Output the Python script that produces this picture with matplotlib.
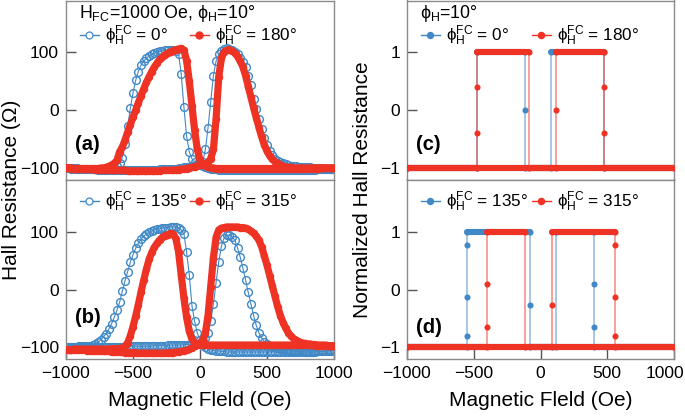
import numpy as np
import matplotlib
matplotlib.use("Agg")
import matplotlib.pyplot as plt
from matplotlib.lines import Line2D
from matplotlib.legend import Legend
from matplotlib.transforms import ScaledTranslation

plt.rcParams['font.family'] = ['Liberation Sans', 'DejaVu Sans']
plt.rcParams['mathtext.default'] = 'regular'

BLUE = '#4189c6'
RED = '#ee3325'

# ---------------- data ----------------
FIELD = np.arange(-1000, 1001, 20)   # Oe, measurement grid

# panel (a) phi_FC = 0 deg
A0_UP = [
    -100, -100, -100, -100, -100, -101, -101, -101, -101, -101,
    -101, -101, -101, -101, -101, -100, -100, -99, -98, -96,
    -92, -82, -58, -28, 3, 30, 52, 67, 78, 85,
    90, 94, 97, 99, 101, 102, 103, 104, 104, 104,
    104, 103, 98, 62, 5, -45, -72, -84, -90, -93,
    -95, -97, -99, -100, -101, -102, -102, -103, -103, -103,
    -104, -104, -104, -104, -104, -104, -104, -104, -104, -104,
    -104, -104, -104, -104, -104, -104, -104, -104, -104, -104,
    -104, -104, -104, -104, -104, -104, -104, -104, -104, -104,
    -103, -103, -103, -103, -102, -102, -102, -102, -101, -101,
    -101]
A0_DOWN = [
    -100, -100, -101, -101, -101, -101, -102, -102, -102, -102,
    -102, -102, -103, -103, -103, -103, -103, -103, -103, -103,
    -103, -103, -103, -103, -103, -103, -103, -103, -103, -103,
    -103, -103, -103, -103, -103, -102, -102, -102, -102, -101,
    -101, -101, -100, -100, -99, -99, -98, -97, -96, -95,
    -95, -90, -68, -30, 15, 60, 85, 97, 103, 106,
    107, 106, 104, 101, 97, 91, 84, 74, 60, 44,
    20, 2, -15, -32, -48, -60, -70, -78, -84, -88,
    -90, -92, -94, -95, -96, -97, -97, -98, -98, -99,
    -99, -99, -100, -100, -100, -100, -101, -101, -101, -101,
    -101]
# panel (a) phi_FC = 180 deg
A180_UP = [
    -100, -100, -100, -101, -101, -101, -101, -101, -101, -101,
    -101, -101, -101, -100, -100, -99, -97, -95, -92, -87,
    -72, -64, -52, -38, -25, -12, 0, 13, 25, 37,
    48, 58, 67, 75, 82, 88, 92, 96, 99, 101,
    103, 105, 106, 107, 104, 86, 50, 8, -35, -68,
    -86, -94, -97, -99, -100, -100, -101, -101, -101, -101,
    -101, -101, -101, -101, -101, -101, -101, -101, -101, -101,
    -101, -101, -101, -101, -101, -101, -101, -101, -101, -101,
    -101, -101, -101, -101, -101, -101, -101, -101, -101, -101,
    -101, -101, -101, -101, -101, -100, -100, -100, -100, -100,
    -100]
A180_DOWN = [
    -100, -100, -101, -101, -101, -101, -102, -102, -102, -102,
    -102, -103, -103, -103, -103, -103, -104, -104, -104, -104,
    -104, -104, -104, -105, -105, -105, -105, -105, -105, -105,
    -105, -105, -105, -105, -105, -105, -104, -104, -104, -104,
    -104, -103, -103, -102, -102, -101, -100, -99, -98, -96,
    -95, -94, -93, -90, -84, -68, -15, 58, 90, 101,
    104, 105, 103, 99, 93, 85, 75, 60, 41, 23,
    4, -13, -30, -46, -60, -71, -79, -85, -89, -92,
    -95, -97, -98, -99, -99, -100, -100, -100, -100, -100,
    -100, -100, -100, -100, -100, -100, -100, -100, -100, -100,
    -100]

# panel (b) phi_FC = 135 deg
B135_UP = [
    -99, -99, -99, -99, -99, -98, -98, -98, -97, -97,
    -96, -94, -91, -87, -82, -76, -68, -59, -48, -36,
    -22, -3, 15, 31, 47, 60, 71, 80, 87, 92,
    96, 99, 101, 103, 104, 105, 106, 107, 107, 108,
    108, 108, 106, 103, 96, 65, 25, -28, -55, -75,
    -88, -95, -99, -102, -104, -105, -106, -106, -107, -107,
    -108, -108, -108, -108, -108, -108, -108, -108, -108, -108,
    -108, -108, -108, -108, -108, -108, -108, -108, -108, -108,
    -108, -108, -108, -108, -108, -108, -108, -108, -108, -108,
    -108, -108, -108, -107, -107, -107, -107, -106, -106, -106,
    -105]
B135_DOWN = [
    -99, -99, -99, -99, -99, -99, -99, -99, -99, -99,
    -99, -99, -99, -99, -99, -99, -99, -99, -99, -99,
    -99, -99, -99, -99, -98, -98, -98, -98, -98, -98,
    -98, -98, -98, -97, -97, -97, -97, -97, -96, -96,
    -96, -96, -96, -96, -95, -95, -95, -94, -94, -94,
    -92, -89, -84, -75, -55, -25, 12, 48, 75, 89,
    94, 94, 91, 85, 72, 56, 37, 17, -5, -25,
    -45, -62, -75, -84, -90, -94, -97, -99, -100, -101,
    -102, -103, -104, -105, -106, -106, -107, -107, -107, -108,
    -108, -108, -108, -108, -107, -107, -107, -106, -106, -106,
    -105]
# panel (b) phi_FC = 315 deg
B315_UP = [
    -104, -104, -104, -103, -103, -103, -103, -103, -103, -103,
    -103, -103, -103, -103, -103, -103, -103, -102, -102, -102,
    -102, -101, -98, -92, -80, -64, -46, -26, -4, 16,
    35, 52, 64, 73, 80, 86, 90, 93, 95, 97,
    96, 88, 65, 25, -15, -48, -72, -86, -92, -94,
    -95, -95, -96, -96, -96, -96, -96, -96, -96, -96,
    -96, -96, -96, -96, -96, -96, -96, -96, -96, -96,
    -96, -96, -96, -96, -96, -96, -96, -96, -96, -96,
    -96, -96, -96, -96, -96, -96, -96, -96, -96, -96,
    -96, -96, -96, -97, -97, -97, -97, -97, -97, -97,
    -97]
B315_DOWN = [
    -104, -104, -104, -105, -105, -105, -105, -105, -106, -106,
    -106, -106, -106, -107, -107, -107, -107, -108, -108, -108,
    -108, -108, -109, -109, -109, -109, -109, -110, -110, -110,
    -110, -110, -110, -110, -110, -110, -110, -110, -109, -109,
    -109, -108, -108, -107, -106, -105, -103, -101, -98, -96,
    -93, -88, -75, -45, 5, 55, 90, 103, 106, 107,
    108, 108, 108, 108, 108, 107, 107, 106, 104, 101,
    97, 92, 85, 74, 58, 42, 24, 6, -12, -30,
    -45, -57, -67, -75, -81, -85, -88, -90, -92, -93,
    -94, -94, -95, -95, -96, -96, -96, -96, -97, -97,
    -97]

# panels (c), (d): normalized Hall resistance, sweep up then sweep down
C0_H = [-1000, -473, -473, -116, -116, -116, 1000, 476, 476, 79, 79, -1000]
C0_Y = [-1, -1, 1, 1, 0, -1, -1, -1, 1, 1, -1, -1]
C180_H = [-1000, -473, -473, -473, -473, -84, -84, 1000,
          476, 476, 476, 476, 116, 116, 116, -1000]
C180_Y = [-1, -1, -0.4, 0.4, 1, 1, -1, -1,
          -1, -0.4, 0.4, 1, 1, 0, -1, -1]
D135_H = [-1000, -553, -553, -553, -553, -553, -79, -79, -79, 1000,
          401, 401, 401, 401, 114, 114, -1000]
D135_Y = [-1, -1, -0.81, -0.13, 0.77, 1, 1, -0.27, -1, -1,
          -1, -0.65, 0.09, 1, 1, -1, -1]
D315_H = [-1000, -398, -398, -398, -398, -114, -114, 1000,
          556, 556, 556, 556, 556, 84, 84, 84, -1000]
D315_Y = [-1, -1, -0.65, 0.09, 1, 1, -1, -1,
          -1, -0.81, -0.13, 0.77, 1, 1, -0.27, -1, -1]

X_TICKS = [-1000, -500, 0, 500, 1000]
R_TICKS = [-100, 0, 100]
N_TICKS = [-1, 0, 1]

# ---------------- figure ----------------
W, H = 685, 418
fig = plt.figure(figsize=(W / 100, H / 100), dpi=100)


def box(x0, x1, ytop, ybot):
    return [x0 / W, 1 - ybot / H, (x1 - x0) / W, (ybot - ytop) / H]


axA = fig.add_axes(box(66, 334, 0.5, 179.5))
axB = fig.add_axes(box(66, 334, 179.5, 359))
axC = fig.add_axes(box(407, 674, 0.5, 179.5))
axD = fig.add_axes(box(407, 674, 179.5, 359))

SPINE = '#8a8a8a'
for ax in (axA, axB, axC, axD):
    ax.set_xlim(-1000, 1000)
    for s in ax.spines.values():
        s.set_color(SPINE)
        s.set_linewidth(1.0)
    ax.tick_params(direction='in', length=7.5, width=1.0, color='#555555',
                   labelsize=12.5, pad=5)
    ax.set_xticks(X_TICKS)
for ax in (axA, axB):
    ax.set_ylim(-120, 190)
    ax.set_yticks(R_TICKS)
for ax in (axC, axD):
    ax.set_ylim(-1.2, 1.9)
    ax.set_yticks(N_TICKS)
for ax in (axA, axC):
    ax.tick_params(axis='x', length=0, labelbottom=False)
for ax in (axB, axD):
    ax.set_xlabel('Magnetic Fleld (Oe)', fontsize=15, labelpad=7)

# keep the right-most field label of panel (d) inside the picture
fig.canvas.draw()
last = axD.get_xticklabels()[-1]
last.set_horizontalalignment('right')
last.set_transform(last.get_transform() +
                   ScaledTranslation(10 / 100, 0, fig.dpi_scale_trans))


def raw(ax, up, down, color, open_marker):
    for ys in (up, down):
        if open_marker:
            ax.plot(FIELD, ys, '-', color=color, lw=0.8, zorder=2)
            ax.plot(FIELD, ys, 'o', ms=5.6, mfc='none', mec=color, mew=1.0,
                    zorder=2)
        else:
            ax.plot(FIELD, ys, '-', color=color, lw=5.2, zorder=3,
                    solid_capstyle='round', solid_joinstyle='round')
            ax.plot(FIELD, ys, 'o', ms=5.4, color=color, mew=0, zorder=3)


raw(axA, A0_UP, A0_DOWN, BLUE, True)
raw(axA, A180_UP, A180_DOWN, RED, False)
raw(axB, B135_UP, B135_DOWN, BLUE, True)
raw(axB, B315_UP, B315_DOWN, RED, False)


def norm(ax, hs, ys, color, z):
    ax.plot(hs, ys, '-', color=color, lw=1.3, alpha=0.5, zorder=z)
    for i in range(len(hs) - 1):
        if ys[i] == ys[i + 1]:
            ax.plot([hs[i], hs[i + 1]], [ys[i], ys[i + 1]], '-', color=color,
                    lw=4.4, solid_capstyle='round', zorder=z + 0.1)
    ax.plot(hs, ys, 'o', color=color, ms=4.4, mew=0, zorder=z + 0.2)


norm(axC, C0_H, C0_Y, BLUE, 2)
norm(axC, C180_H, C180_Y, RED, 3)
norm(axD, D135_H, D135_Y, BLUE, 2)
norm(axD, D315_H, D315_Y, RED, 3)

# legends: each entry placed at fixed column positions, as in the reference
lab = lambda a: r'ϕ$_\mathregular{H}^\mathregular{FC}$ = ' + a


def legend(ax, a1, a2, x1, x2, y, open_blue):
    ms = 5 if open_blue else 4.4
    h1 = Line2D([], [], color=BLUE, lw=1.0, marker='o', ms=ms,
                mfc='white' if open_blue else BLUE, mec=BLUE, mew=0.9)
    h2 = Line2D([], [], color=RED, lw=1.0, marker='o', ms=ms, mfc=RED,
                mec=RED)
    for h, a, x in ((h1, a1, x1), (h2, a2, x2)):
        lg = Legend(ax, [h], [lab(a)], loc='center left',
                    bbox_to_anchor=(x, y), frameon=False, fontsize=12.3,
                    handlelength=1.1, handletextpad=0.35,
                    borderaxespad=0, borderpad=0)
        ax.add_artist(lg)


legend(axA, '0°', '180°', 0.052, 0.463, 0.80, True)
legend(axB, '135°', '315°', 0.052, 0.463, 0.878, True)
legend(axC, '0°', '180°', 0.052, 0.468, 0.80, False)
legend(axD, '135°', '315°', 0.052, 0.468, 0.878, False)

axA.text(0.05, 0.905, r'H$_\mathregular{FC}$=1000 Oe, ϕ$_\mathregular{H}$=10°',
         transform=axA.transAxes, fontsize=12.8, va='baseline', ha='left')
axC.text(0.05, 0.905, r'ϕ$_\mathregular{H}$=10°',
         transform=axC.transAxes, fontsize=12.8, va='baseline', ha='left')

for ax, t, y in ((axA, '(a)', 0.197), (axB, '(b)', 0.233),
                 (axC, '(c)', 0.197), (axD, '(d)', 0.178)):
    ax.text(0.032, y, t, transform=ax.transAxes, fontsize=14.5,
            fontweight='bold', va='center', ha='left')

fig.text(12 / W, 1 - 190 / H, 'Hall Resistance (Ω)', rotation=90,
         fontsize=15, ha='center', va='center')
fig.text(362 / W, 1 - 190 / H, 'Normalized Hall Resistance', rotation=90,
         fontsize=15, ha='center', va='center')

fig.savefig('out.png', dpi=100)
